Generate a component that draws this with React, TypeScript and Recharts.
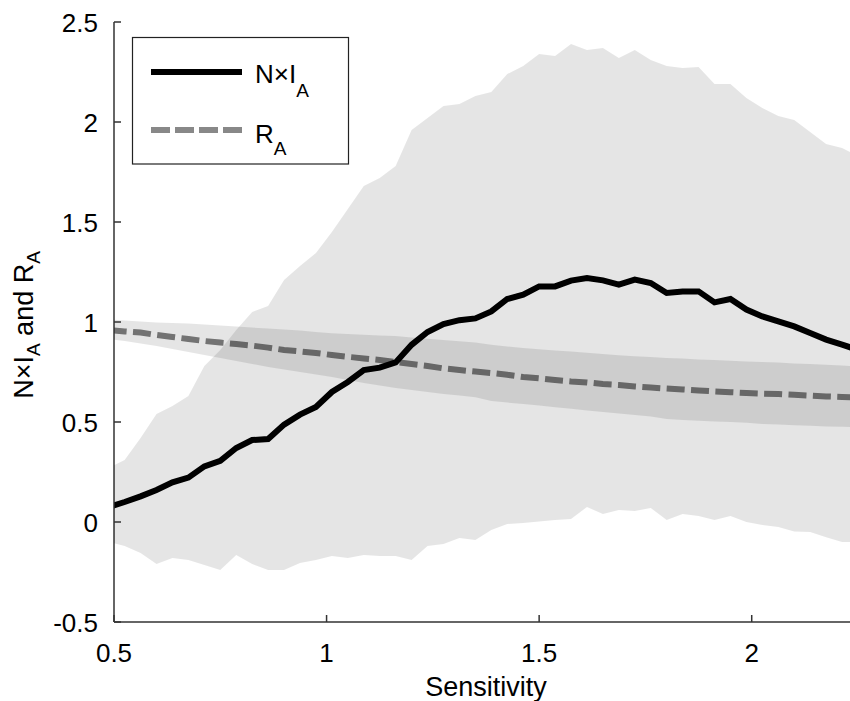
import React from 'react';
import { ComposedChart, Area, Line, XAxis, YAxis } from 'recharts';

const SENSITIVITY = [
  0.4875, 0.525, 0.5625, 0.6, 0.6375, 0.675, 0.7125, 0.75, 0.7875, 0.825,
  0.8625, 0.9, 0.9375, 0.975, 1.0125, 1.05, 1.0875, 1.125, 1.1625, 1.2,
  1.2375, 1.275, 1.3125, 1.35, 1.3875, 1.425, 1.4625, 1.5, 1.5375, 1.575,
  1.6125, 1.65, 1.6875, 1.725, 1.7625, 1.8, 1.8375, 1.875, 1.9125, 1.95,
  1.9875, 2.025, 2.0625, 2.1, 2.1375, 2.175, 2.2125, 2.25,
];

const NI_A = [
  0.075, 0.1, 0.128, 0.16, 0.198, 0.222, 0.278, 0.306, 0.37, 0.41,
  0.415, 0.487, 0.537, 0.575, 0.65, 0.7, 0.76, 0.772, 0.798, 0.886,
  0.95, 0.99, 1.009, 1.018, 1.053, 1.115, 1.137, 1.178, 1.178, 1.207,
  1.22, 1.208, 1.187, 1.212, 1.195, 1.145, 1.153, 1.153, 1.098, 1.115,
  1.062, 1.028, 1.003, 0.978, 0.945, 0.912, 0.887, 0.86,
];
const NI_A_LOW = [
  -0.1, -0.12, -0.155, -0.21, -0.18, -0.19, -0.215, -0.24, -0.165, -0.21,
  -0.24, -0.24, -0.205, -0.19, -0.17, -0.18, -0.165, -0.17, -0.17, -0.19,
  -0.12, -0.11, -0.08, -0.09, -0.04, -0.01, -0.005, 0.003, 0.01, 0.015,
  0.075, 0.04, 0.06, 0.055, 0.07, 0.01, 0.04, 0.03, 0.01, 0.03,
  0.0, -0.015, -0.025, -0.048, -0.05, -0.076, -0.1, -0.1,
];
const NI_A_HIGH = [
  0.27, 0.31, 0.42, 0.54, 0.58, 0.63, 0.78, 0.86, 0.96, 1.05,
  1.08, 1.21, 1.28, 1.345, 1.45, 1.565, 1.68, 1.72, 1.78, 1.96,
  2.02, 2.08, 2.09, 2.13, 2.15, 2.24, 2.28, 2.34, 2.33, 2.39,
  2.36, 2.37, 2.32, 2.36, 2.31, 2.28, 2.27, 2.275, 2.19, 2.19,
  2.12, 2.07, 2.03, 2.01, 1.95, 1.89, 1.87, 1.83,
];

const R_A = [
  0.96, 0.953, 0.947, 0.935, 0.925, 0.915, 0.905, 0.897, 0.89, 0.882,
  0.872, 0.86, 0.853, 0.845, 0.835, 0.826, 0.818, 0.81, 0.8, 0.79,
  0.78, 0.768, 0.76, 0.752, 0.745, 0.736, 0.725, 0.718, 0.71, 0.703,
  0.698, 0.69, 0.685, 0.678, 0.672, 0.667, 0.663, 0.658, 0.653, 0.649,
  0.645, 0.642, 0.64, 0.636, 0.632, 0.628, 0.625, 0.622,
];
const R_A_LOW = [
  0.915, 0.905, 0.893, 0.88, 0.865, 0.85, 0.835, 0.82, 0.805, 0.79,
  0.775, 0.762, 0.75, 0.737, 0.725, 0.71, 0.695, 0.682, 0.67, 0.66,
  0.65, 0.64, 0.632, 0.624, 0.605, 0.597, 0.59, 0.582, 0.574, 0.566,
  0.558, 0.55, 0.542, 0.535, 0.528, 0.515, 0.51, 0.506, 0.503, 0.5,
  0.496, 0.49, 0.487, 0.484, 0.481, 0.478, 0.476, 0.474,
];
const R_A_HIGH = [
  1.012, 1.008, 1.003, 0.998, 0.995, 0.992, 0.988, 0.983, 0.978, 0.972,
  0.967, 0.962, 0.958, 0.95, 0.944, 0.94, 0.936, 0.932, 0.93, 0.922,
  0.916, 0.91, 0.904, 0.897, 0.886, 0.878, 0.87, 0.864, 0.858, 0.852,
  0.846, 0.84, 0.834, 0.829, 0.825, 0.82, 0.817, 0.813, 0.81, 0.806,
  0.803, 0.8, 0.797, 0.793, 0.79, 0.786, 0.782, 0.778,
];

const X_TICKS = [0.5, 1, 1.5, 2];
const Y_TICKS = [-0.5, 0, 0.5, 1, 1.5, 2, 2.5];

const data = SENSITIVITY.map((s, i) => ({
  s,
  ni: NI_A[i],
  niBand: [NI_A_LOW[i], NI_A_HIGH[i]],
  ra: R_A[i],
  raBand: [R_A_LOW[i], R_A_HIGH[i]],
}));

const FONT = '"Liberation Sans", Arial, Helvetica, sans-serif';
const AXIS = '#333';
const TICK_LEN = 7;

const BottomTick = (props: any) => {
  const { x, y, payload } = props;
  return (
    <g>
      <line x1={x} y1={y} x2={x} y2={y - TICK_LEN} stroke={AXIS} strokeWidth={1.5} />
      <text x={x} y={y + 40} textAnchor="middle" fontSize={26} fontFamily={FONT} fill="#000">
        {payload.value}
      </text>
    </g>
  );
};

const TopTick = (props: any) => {
  const { x, y } = props;
  return <line x1={x} y1={y} x2={x} y2={y + TICK_LEN} stroke={AXIS} strokeWidth={1.5} />;
};

const LeftTick = (props: any) => {
  const { x, y, payload } = props;
  return (
    <g>
      <line x1={x} y1={y} x2={x + TICK_LEN} y2={y} stroke={AXIS} strokeWidth={1.5} />
      <text x={x - 16} y={y + 9.5} textAnchor="end" fontSize={26} fontFamily={FONT} fill="#000">
        {payload.value}
      </text>
    </g>
  );
};

export default function App() {
  return (
    <div
      style={{
        position: 'absolute',
        left: 0,
        top: 0,
        width: 850,
        height: 701,
        overflow: 'hidden',
        background: '#fff',
      }}
    >
      <ComposedChart width={858} height={701} data={data} margin={{ top: 22, right: 0, bottom: 0, left: 0 }}>
        <XAxis
          dataKey="s"
          type="number"
          domain={[0.5, 2.25]}
          ticks={X_TICKS}
          allowDataOverflow
          interval={0}
          height={79}
          tickSize={0}
          tickMargin={0}
          tickLine={false}
          axisLine={{ stroke: AXIS, strokeWidth: 1.5 }}
          tick={<BottomTick />}
        />
        <XAxis
          xAxisId="top"
          orientation="top"
          dataKey="s"
          type="number"
          domain={[0.5, 2.25]}
          ticks={X_TICKS}
          allowDataOverflow
          interval={0}
          height={0}
          tickSize={0}
          tickMargin={0}
          tickLine={false}
          axisLine={{ stroke: AXIS, strokeWidth: 1.5 }}
          tick={<TopTick />}
        />
        <YAxis
          type="number"
          domain={[-0.5, 2.5]}
          ticks={Y_TICKS}
          allowDataOverflow
          interval={0}
          width={114}
          tickSize={0}
          tickMargin={0}
          tickLine={false}
          axisLine={{ stroke: AXIS, strokeWidth: 1.5 }}
          tick={<LeftTick />}
        />
        <Line
          type="linear"
          dataKey="ra"
          stroke="#808080"
          strokeWidth={6}
          strokeDasharray="18 6.4"
          dot={false}
          activeDot={false}
          isAnimationActive={false}
          zIndex={100}
        />
        <Line
          type="linear"
          dataKey="ni"
          stroke="#000"
          strokeWidth={6}
          dot={false}
          activeDot={false}
          isAnimationActive={false}
          zIndex={100}
        />
        <Area
          type="linear"
          dataKey="niBand"
          stroke="none"
          fill="#000"
          fillOpacity={0.1}
          activeDot={false}
          isAnimationActive={false}
          zIndex={500}
        />
        <Area
          type="linear"
          dataKey="raBand"
          stroke="none"
          fill="#000"
          fillOpacity={0.1}
          activeDot={false}
          isAnimationActive={false}
          zIndex={500}
        />
      </ComposedChart>
      <svg
        width={850}
        height={701}
        style={{ position: 'absolute', left: 0, top: 0, pointerEvents: 'none' }}
        fontFamily={FONT}
      >
        <text transform="translate(33,325) rotate(-90)" textAnchor="middle" fontSize={27} fill="#000">
          N×I<tspan fontSize={19} dy={7}>A</tspan>
          <tspan dy={-7}> and R</tspan>
          <tspan fontSize={19} dy={7}>A</tspan>
        </text>
        <text x={486} y={696} textAnchor="middle" fontSize={27} fill="#000">
          Sensitivity
        </text>
        <rect x={132.5} y={37.5} width={216} height={126.5} fill="#fff" stroke="#222" strokeWidth={1.2} />
        <line x1={151} y1={72} x2={242} y2={72} stroke="#000" strokeWidth={6} />
        <text x={255} y={83} fontSize={26} fill="#000">
          N×I<tspan fontSize={19} dy={14}>A</tspan>
        </text>
        <line x1={151} y1={130} x2={242} y2={130} stroke="#888" strokeWidth={6} strokeDasharray="19 5" />
        <text x={255} y={143} fontSize={26} fill="#000">
          R<tspan fontSize={19} dy={12}>A</tspan>
        </text>
      </svg>
    </div>
  );
}
